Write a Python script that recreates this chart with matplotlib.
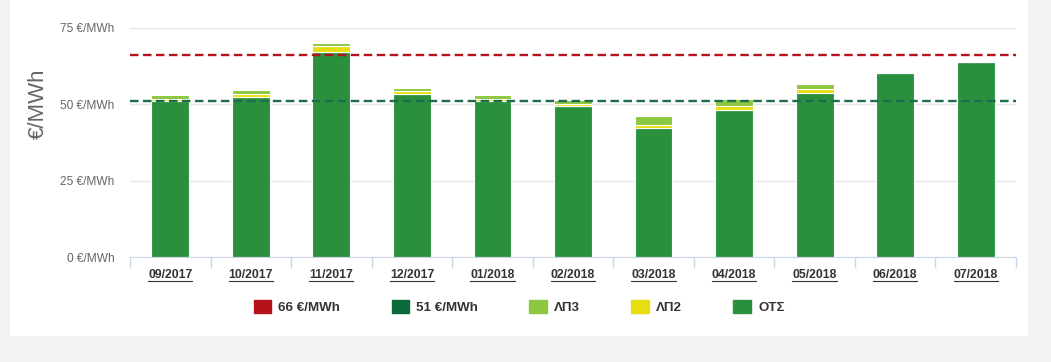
import numpy as np
import matplotlib.pyplot as plt
from matplotlib.patches import Patch, Rectangle
from matplotlib.lines import Line2D

plt.rcParams['font.family'] = ['Liberation Sans', 'DejaVu Sans']

months = ['09/2017', '10/2017', '11/2017', '12/2017', '01/2018', '02/2018',
          '03/2018', '04/2018', '05/2018', '06/2018', '07/2018']
ots = [51.0, 52.5, 67.2, 53.5, 51.2, 49.4, 42.3, 48.0, 53.8, 60.4, 63.9]
lp2 = [0.8, 1.0, 1.8, 0.8, 0.7, 0.8, 0.9, 1.4, 1.2, 0.0, 0.0]
lp3 = [1.2, 1.3, 1.2, 1.2, 1.1, 1.3, 2.9, 2.2, 1.6, 0.0, 0.0]
limit_high = 66
limit_low = 51
yticks = [0, 25, 50, 75]

c_red = '#b5121b'
c_dark = '#0a6b3a'
c_lp3 = '#8dc63f'
c_lp2 = '#e6de10'
c_ots = '#2b903d'

fig = plt.figure(figsize=(10.51, 3.62), dpi=100, facecolor='#f2f2f2')
fig.patches.append(Rectangle((10 / 1051, 1 - 336 / 362), 1018 / 1051, 336 / 362,
                             transform=fig.transFigure, facecolor='white',
                             edgecolor='none', zorder=-5))

ax = fig.add_axes([130 / 1051, 1 - 257 / 362, 886 / 1051, 229 / 362])
ax.set_facecolor('none')

x = np.arange(len(months))
w = 0.47
ots = np.array(ots)
lp2 = np.array(lp2)
lp3 = np.array(lp3)
ax.bar(x, ots, w, color=c_ots, edgecolor='white', linewidth=0.8, zorder=2)
ax.bar(x, lp2, w, bottom=ots, color=c_lp2, edgecolor='white', linewidth=0.8, zorder=2)
ax.bar(x, lp3, w, bottom=ots + lp2, color=c_lp3, edgecolor='white', linewidth=0.8, zorder=2)

ax.axhline(limit_high, color=c_red, lw=1.7, ls=(0, (3.6, 1.9)), zorder=3)
ax.axhline(limit_low, color='#1f6b4e', lw=1.7, ls=(0, (3.6, 1.9)), zorder=3)

ax.set_xlim(-0.5, len(months) - 0.5)
ax.set_ylim(0, 75)
ax.set_yticks(yticks)
ax.set_yticklabels([f'{v} €/MWh' for v in yticks], color='#666666', fontsize=8.6)
ax.yaxis.grid(True, color='#e6e6e6', lw=1, zorder=0)
ax.tick_params(axis='y', length=0, pad=11)

ax.set_xticks(x)
ax.set_xticklabels(months, fontsize=8.8, fontweight='bold', color='#333333')
ax.set_xticks(np.arange(len(months) + 1) - 0.5, minor=True)
ax.tick_params(axis='x', which='major', length=0, pad=9)
ax.tick_params(axis='x', which='minor', length=8, color='#ccd6eb', width=1)

for s in ['top', 'right', 'left']:
    ax.spines[s].set_visible(False)
ax.spines['bottom'].set_color('#ccd6eb')

fig.text(38 / 1051, 1 - 104 / 362, '€/MWh', rotation=90, ha='center', va='center',
         fontsize=16, color='#666666')

handles = [Patch(color=c_red), Patch(color=c_dark), Patch(color=c_lp3),
           Patch(color=c_lp2), Patch(color=c_ots)]
labels = [f'{limit_high} €/MWh', f'{limit_low} €/MWh', 'ΛΠ3', 'ΛΠ2', 'ΟΤΣ']
fig.legend(handles, labels, loc='center', bbox_to_anchor=(0.494, 1 - 307 / 362),
           ncol=5, frameon=False, handlelength=1.3, handleheight=1.1,
           handletextpad=0.55, columnspacing=3.85,
           prop={'weight': 'bold', 'size': 9.6}, labelcolor='#333333')

# underline the month labels
fig.canvas.draw()
r = fig.canvas.get_renderer()
for lab in ax.get_xticklabels():
    bb = lab.get_window_extent(r)
    y0 = bb.y0 + 1.0
    fig.lines.append(Line2D([bb.x0 / fig.bbox.width, bb.x1 / fig.bbox.width],
                            [y0 / fig.bbox.height, y0 / fig.bbox.height],
                            transform=fig.transFigure, color='#333333', lw=0.8))

fig.savefig('out.png', dpi=100, facecolor=fig.get_facecolor())
plt.close(fig)
